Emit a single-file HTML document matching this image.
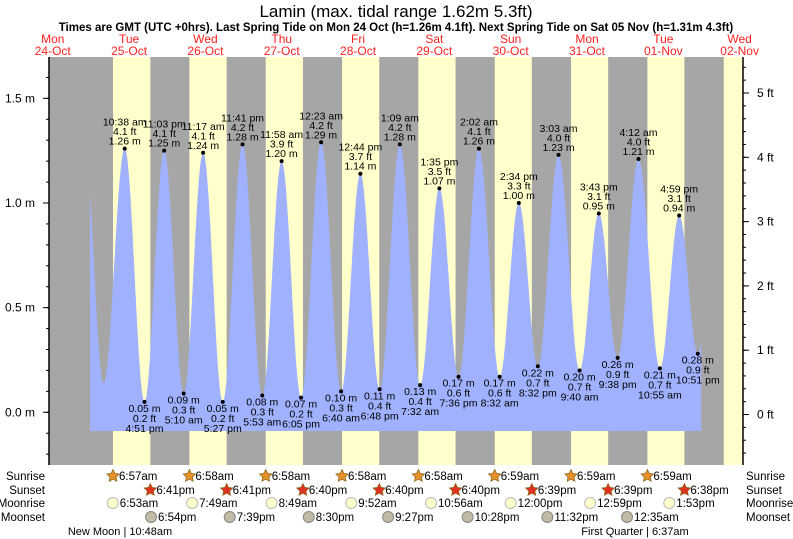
<!DOCTYPE html>
<html><head><meta charset="utf-8">
<style>
html,body{margin:0;padding:0;background:#fff;}
svg{display:block;font-family:"Liberation Sans",Arial,sans-serif;}
</style></head>
<body>
<svg id="chart" width="793" height="539" viewBox="0 0 793 539" xmlns="http://www.w3.org/2000/svg">
<text x="396" y="17" font-size="17" text-anchor="middle" fill="#000">Lamin (max. tidal range 1.62m 5.3ft)</text>
<text x="396" y="31" font-size="11.5" font-weight="bold" text-anchor="middle" fill="#000">Times are GMT (UTC +0hrs). Last Spring Tide on Mon 24 Oct (h=1.26m 4.1ft). Next Spring Tide on Sat 05 Nov (h=1.31m 4.3ft)</text>
<g id="bg"></g><g id="tide"></g><g id="axes"></g><g id="labels"></g><g id="bottom"></g>
</svg>
<script>
// ---- data ----
const dayNames = ["Mon","Tue","Wed","Thu","Fri","Sat","Sun","Mon","Tue","Wed"];
const dayDates = ["24-Oct","25-Oct","26-Oct","27-Oct","28-Oct","29-Oct","30-Oct","31-Oct","01-Nov","02-Nov"];
const sunriseTimes = [null,"6:57am","6:58am","6:58am","6:58am","6:58am","6:59am","6:59am","6:59am","7:00am"];
const sunsetTimes  = [null,"6:41pm","6:41pm","6:40pm","6:40pm","6:40pm","6:39pm","6:39pm","6:38pm","6:38pm"];
const moonriseDays = [1,2,3,4,5,6,7,8];
const moonriseTimes = ["6:53am","7:49am","8:49am","9:52am","10:56am","12:00pm","12:59pm","1:53pm"];
const moonsetDays = [1,2,3,4,5,6,8];
const moonsetTimes = ["6:54pm","7:39pm","8:30pm","9:27pm","10:28pm","11:32pm","12:35am"];
const tideDays = [0,1,1,1,1,2,2,2,2,3,3,3,4,4,4,4,5,5,5,5,6,6,6,6,7,7,7,7,8,8,8,8,9];
const tideTimes = ["10:10pm","3:57am","10:38am","4:51pm","11:03pm","5:10am","11:17am","5:27pm","11:41pm","5:53am","11:58am","6:05pm","12:23am","6:40am","12:44pm","6:48pm","1:09am","7:32am","1:35pm","7:36pm","2:02am","8:32am","2:34pm","8:32pm","3:03am","9:40am","3:43pm","9:38pm","4:12am","10:55am","4:59pm","10:51pm","5:20am"];
const tideHeights = [1.22,0.14,1.26,0.05,1.25,0.09,1.24,0.05,1.28,0.08,1.20,0.07,1.29,0.10,1.14,0.11,1.28,0.13,1.07,0.17,1.26,0.17,1.00,0.22,1.23,0.20,0.95,0.26,1.21,0.21,0.94,0.28,1.15];
const tideLabelled = [0,0,1,1,1,1,1,1,1,1,1,1,1,1,1,1,1,1,1,1,1,1,1,1,1,1,1,1,1,1,1,1,0];
const yTicksM = [0.0,0.5,1.0,1.5];
const yTicksFt = [0,1,2,3,4,5];
const tideStart = 23.7, tideEnd = 215.9;
// ---- scales ----
const NS="http://www.w3.org/2000/svg";
const plotL=49, plotR=743, plotT=57, plotB=465;
function X(t){return 14.6+t*3.18;}
function Y(m){return 412.3-m*209.3;}
function Yft(f){return 414.5-f*64.3;}
function hrs(s){const m=s.match(/(\d+):(\d+)(am|pm)/);let h=+m[1]%12;if(m[3]==="pm")h+=12;return h+ +m[2]/60;}
function mk(tag,attrs,parent,txt){const e=document.createElementNS(NS,tag);for(const k in attrs)e.setAttribute(k,attrs[k]);if(txt!==undefined)e.textContent=txt;parent.appendChild(e);return e;}
const bg=document.getElementById('bg'),tideG=document.getElementById('tide'),ax=document.getElementById('axes'),lab=document.getElementById('labels'),bot=document.getElementById('bottom');
// background
let r=mk('rect',{x:plotL,y:plotT,width:plotR-plotL,height:plotB-plotT,fill:'#a6a6a6'},bg);


for(let d=1;d<dayNames.length;d++){
  const x1=Math.max(plotL,X(d*24+hrs(sunriseTimes[d]))),x2=Math.min(plotR,X(d*24+hrs(sunsetTimes[d])));
  if(x2<=x1)continue;
  const y=mk('rect',{x:x1,y:plotT,width:x2-x1,height:plotB-plotT,fill:'#ffffcc'},bg);
  
  
}
// day labels
for(let d=0;d<dayNames.length;d++){
  const x=X(d*24+12);
  const t=mk('text',{x:x,y:43,'font-size':12,'text-anchor':'middle',fill:'#ff2020'},lab);
  
  
  mk('tspan',{x:x,dy:0},t,dayNames[d]);mk('tspan',{x:x,dy:12},t,dayDates[d]);
}
// tide curve
const ext=tideDays.map((d,i)=>({t:d*24+hrs(tideTimes[i]),h:tideHeights[i]}));
function hAt(t){for(let i=0;i<ext.length-1;i++){const a=ext[i],b=ext[i+1];if(t>=a.t&&t<=b.t){const f=(t-a.t)/(b.t-a.t);return a.h+(b.h-a.h)*(1-Math.cos(Math.PI*f))/2;}}return ext[ext.length-1].h;}
let pts=[[X(tideStart),431]];
for(let t=tideStart;t<=tideEnd;t+=0.1)pts.push([X(t),Y(hAt(t))]);
pts.push([X(tideEnd),Y(hAt(tideEnd))]);pts.push([X(tideEnd),431]);
const poly=mk('polygon',{points:pts.map(p=>p[0].toFixed(1)+','+p[1].toFixed(1)).join(' '),fill:'#a0b1ff'},tideG);


// extreme labels
ext.forEach((e,i)=>{
  if(!tideLabelled[i])return;
  const x=X(e.t),y=Y(e.h);const high=e.h>0.6;
  const dot=mk('circle',{cx:x,cy:y,r:2,fill:'#000'},lab);
  
  
  const tm=tideTimes[i].replace(/(am|pm)/,' $1');
  const ft=(e.h/0.3048).toFixed(1)+' ft',m=e.h.toFixed(2)+' m';
  const lines=high?[tm,ft,m]:[m,ft,tm];
  const g=mk('text',{'font-size':10.5,'text-anchor':'middle',fill:'#000'},lab);
  
  
  lines.forEach((s,k)=>{const yy=high?y-4-(2-k)*9.5:y+10+k*10;mk('tspan',{x:x,y:yy},g,s);});
});
// axes
mk('line',{x1:plotL,y1:plotT,x2:plotL,y2:plotB,stroke:'#000','stroke-width':1.5},ax);
mk('line',{x1:plotR,y1:plotT,x2:plotR,y2:plotB,stroke:'#000','stroke-width':1.5},ax);
for(let v=-0.2;v<=1.75;v+=0.1){const y=Y(v);if(y<plotT||y>plotB)continue;mk('line',{x1:plotL-3,y1:y,x2:plotL,y2:y,stroke:'#000'},ax);}
yTicksM.forEach(v=>{const y=Y(v);mk('line',{x1:plotL-6,y1:y,x2:plotL,y2:y,stroke:'#000'},ax);
  const t=mk('text',{x:plotL-14,y:y+4,'font-size':12,'text-anchor':'end',fill:'#000'},ax,v.toFixed(1)+' m');
  
  });
for(let v=-0.8;v<=5.7;v+=0.2){const y=Yft(v);if(y<plotT||y>plotB)continue;mk('line',{x1:plotR,y1:y,x2:plotR+3,y2:y,stroke:'#000'},ax);}
yTicksFt.forEach(v=>{const y=Yft(v);mk('line',{x1:plotR,y1:y,x2:plotR+6,y2:y,stroke:'#000'},ax);
  const t=mk('text',{x:plotR+14,y:y+4,'font-size':12,fill:'#000'},ax,v+' ft');
  
  });
// bottom rows
const rows=[["Sunrise",476],["Sunset",490],["Moonrise",503],["Moonset",517]];
rows.forEach(rw=>{
  let a=mk('text',{x:45,y:rw[1]+4,'font-size':11.5,'text-anchor':'end',fill:'#000'},bot,rw[0]);
  
  
  let b=mk('text',{x:746,y:rw[1]+4,'font-size':11.5,fill:'#000'},bot,rw[0]);
  
  
});
function star(cx,cy,fill){let p=[];for(let k=0;k<10;k++){const rr=k%2?3.2:6.5,a=-Math.PI/2+k*Math.PI/5;p.push((cx+rr*Math.cos(a)).toFixed(1)+','+(cy+rr*Math.sin(a)).toFixed(1));}return mk('polygon',{points:p.join(' '),fill:fill,stroke:'#8a6a20','stroke-width':0.8},bot);}
for(let d=1;d<=8;d++){
  let x=X(d*24+hrs(sunriseTimes[d]));
  let s=star(x,476,'#e8902a');
  
  
  mk('text',{x:x+6,y:480,'font-size':11.5,fill:'#000'},bot,sunriseTimes[d]);
  x=X(d*24+hrs(sunsetTimes[d]));
  s=star(x,490,'#e03020');
  
  
  mk('text',{x:x+6,y:494,'font-size':11.5,fill:'#000'},bot,sunsetTimes[d]);
}
moonriseDays.forEach((d,i)=>{const x=X(d*24+hrs(moonriseTimes[i]));
  const c=mk('circle',{cx:x,cy:503,r:5.5,fill:'#ffffcc',stroke:'#bbb'},bot);
  
  
  mk('text',{x:x+7,y:507,'font-size':11.5,fill:'#000'},bot,moonriseTimes[i]);});
moonsetDays.forEach((d,i)=>{const x=X(d*24+hrs(moonsetTimes[i]));
  const c=mk('circle',{cx:x,cy:517,r:5.5,fill:'#bfbba5',stroke:'#888'},bot);
  
  
  mk('text',{x:x+7,y:521,'font-size':11.5,fill:'#000'},bot,moonsetTimes[i]);});
let p1=mk('text',{x:120,y:535,'font-size':11,'text-anchor':'middle',fill:'#000'},bot,'New Moon | 10:48am');


let p2=mk('text',{x:635,y:535,'font-size':11,'text-anchor':'middle',fill:'#000'},bot,'First Quarter | 6:37am');


</script>
</body></html>
